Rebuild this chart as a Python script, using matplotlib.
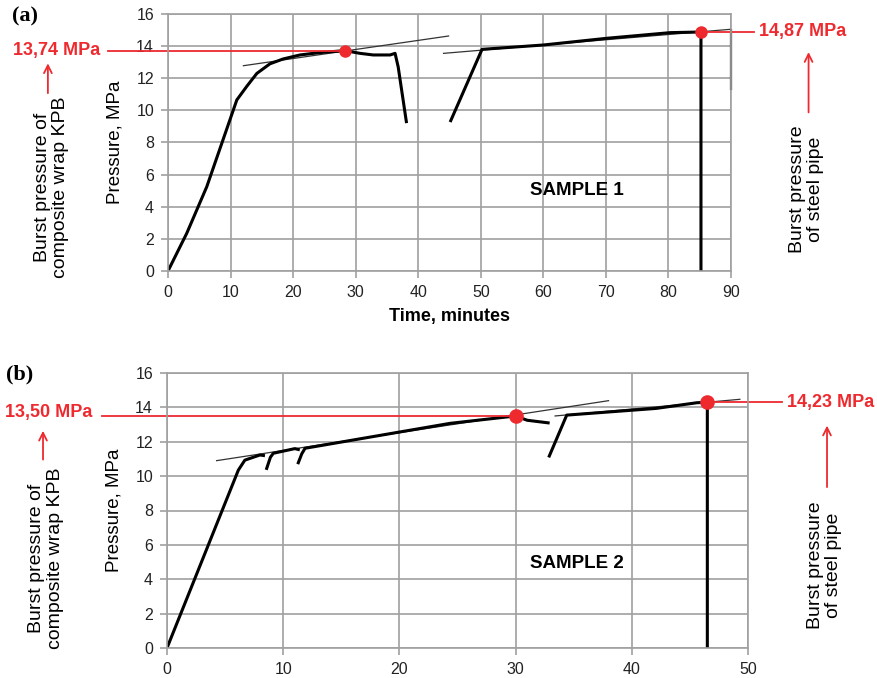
#
# pressure test of composite-wrapped pipe, two samples
#
import numpy as np
import matplotlib
matplotlib.use('Agg')
import matplotlib.pyplot as plt
#
# data
#
# sample 1 (panel a)
t_a1 = [0, 3.0, 6.2, 8.6, 11.0, 12.6, 14.2, 16.3, 18.4, 21.1, 24.3, 28.3, 30.7, 32.8, 35.5, 36.3, 36.8, 38.1]
p_a1 = [0, 2.35, 5.25, 7.95, 10.65, 11.5, 12.3, 12.9, 13.2, 13.45, 13.6, 13.72, 13.55, 13.45, 13.45, 13.55, 12.7, 9.3]
t_a2 = [45.2, 50.2, 60.0, 70.2, 80.3, 85.2, 85.2]
p_a2 = [9.36, 13.8, 14.07, 14.49, 14.84, 14.88, 0]
tan_a1 = ([12.05, 44.85], [12.78, 14.63])
tan_a2 = ([44.05, 90.0], [13.55, 15.05])
edge_a = ([90, 90], [15.0, 11.3])
burst_a = [(28.3, 13.72), (85.2, 14.88)]
labels_a = ['13,74 MPa', '14,87 MPa']

# sample 2 (panel b)
t_b1 = [0, 6.14, 6.7, 8.0, 8.3]
p_b1 = [0, 10.35, 10.93, 11.23, 11.2]
t_b2 = [8.58, 8.9, 9.15, 11.0, 11.3]
p_b2 = [10.45, 11.1, 11.33, 11.6, 11.55]
t_b3 = [11.3, 11.6, 11.88, 24.35, 30.0, 31.0, 32.8]
p_b3 = [10.78, 11.3, 11.62, 13.07, 13.5, 13.25, 13.1]
t_b4 = [32.9, 34.4, 42.1, 45.6, 46.5, 46.5]
p_b4 = [11.17, 13.55, 13.94, 14.27, 14.3, 0]
tan_b1 = ([4.27, 38.0], [10.9, 14.39])
tan_b2 = ([33.4, 49.3], [13.5, 14.47])
burst_b = [(30.0, 13.5), (46.5, 14.3)]
labels_b = ['13,50 MPa', '14,23 MPa']

RED = '#ee2a2f'
GRID = '#a0a0a0'
plt.rcParams['font.family'] = ['Liberation Sans', 'DejaVu Sans']

W, H = 878, 678
fig = plt.figure(figsize=(W/100, H/100), dpi=100)

def setup(ax, xmax, xstep):
  ax.set_xlim(0, xmax)
  ax.set_ylim(0, 16)
  ax.set_xticks(np.arange(0, xmax+1, xstep))
  ax.set_yticks(np.arange(0, 17, 2))
  ax.grid(True, color=GRID, lw=1.2)
  ax.set_axisbelow(True)
  for s in ax.spines.values():
    s.set_color(GRID)
    s.set_linewidth(1.2)
  ax.tick_params(length=5, width=1.2, color=GRID, labelsize=11.5, labelcolor='#222222', pad=5)
  ax.set_ylabel('Pressure, MPa', fontsize=13.5, labelpad=9)

def side_text(ax, x, y, s):
  ax.text(x, y, s, rotation=90, ha='center', va='center', fontsize=14,
          linespacing=1.12, clip_on=False)

def arrow(ax, x, y0, y1):
  ax.annotate('', xy=(x, y1), xytext=(x, y0), annotation_clip=False,
              arrowprops=dict(arrowstyle='->', color=RED, lw=1.3, mutation_scale=14))

#
# panel a
#
ax = fig.add_axes([168/W, 1-271/H, (731-168)/W, (271-14)/H])
setup(ax, 90, 10)
ax.set_xlabel('Time, minutes', fontsize=13, fontweight='bold', labelpad=6)
ax.plot(*tan_a1, color='#333333', lw=0.9)
ax.plot(*tan_a2, color='#333333', lw=0.9)
ax.plot(*edge_a, color='#222222', lw=1.6, clip_on=False)
ax.plot(t_a1, p_a1, color='black', lw=2.2, solid_joinstyle='round')
ax.plot(t_a2, p_a2, color='black', lw=2.2, solid_joinstyle='round')
(x1, y1), (x2, y2) = burst_a
ax.plot([-9.6, x1], [y1, y1], color=RED, lw=1.3, clip_on=False)
ax.plot([x2, 93.6], [y2, y2], color=RED, lw=1.3, clip_on=False)
ax.plot([x1, x2], [y1, y2], 'o', color=RED, ms=8, clip_on=False, zorder=5)
ax.text(-17.8, y1, labels_a[0], color=RED, fontsize=13, fontweight='bold', ha='center', va='center')
ax.text(94.4, y2, labels_a[1], color=RED, fontsize=13, fontweight='bold', ha='left', va='center')
arrow(ax, -19.2, 10.9, 13.1)
arrow(ax, 102.4, 9.7, 13.8)
side_text(ax, -18.6, 5.2, 'Burst pressure of\ncomposite wrap KPB')
side_text(ax, 102.1, 5.1, 'Burst pressure\nof steel pipe')
ax.text(65.4, 5.0, 'SAMPLE 1', fontsize=13.5, fontweight='bold', ha='center', va='center')
fig.text(12/W, 1-16/H, '(a)', fontsize=16, fontweight='bold', family='Liberation Serif', ha='left', va='center')

#
# panel b
#
ax = fig.add_axes([167/W, 1-648/H, (748-167)/W, (648-373)/H])
setup(ax, 50, 10)
ax.plot(*tan_b1, color='#333333', lw=0.9)
ax.plot(*tan_b2, color='#333333', lw=0.9)
for t, p in [(t_b1, p_b1), (t_b2, p_b2), (t_b3, p_b3), (t_b4, p_b4)]:
  ax.plot(t, p, color='black', lw=2.2, solid_joinstyle='round')
(x1, y1), (x2, y2) = burst_b
ax.plot([-5.6, x1], [y1, y1], color=RED, lw=1.3, clip_on=False)
ax.plot([x2, 52.9], [y2, y2], color=RED, lw=1.3, clip_on=False)
ax.plot([x1, x2], [y1, y2], 'o', color=RED, ms=9.5, clip_on=False, zorder=5)
ax.text(-10.15, 13.7, labels_b[0], color=RED, fontsize=13, fontweight='bold', ha='center', va='center')
ax.text(53.35, y2, labels_b[1], color=RED, fontsize=13, fontweight='bold', ha='left', va='center')
arrow(ax, -10.67, 10.8, 12.8)
arrow(ax, 56.8, 9.2, 13.1)
side_text(ax, -10.4, 5.2, 'Burst pressure of\ncomposite wrap KPB')
side_text(ax, 56.6, 4.8, 'Burst pressure\nof steel pipe')
ax.text(35.3, 4.9, 'SAMPLE 2', fontsize=13.5, fontweight='bold', ha='center', va='center')
fig.text(6/W, 1-374/H, '(b)', fontsize=16, fontweight='bold', family='Liberation Serif', ha='left', va='center')

fig.savefig('out.png', dpi=100)
